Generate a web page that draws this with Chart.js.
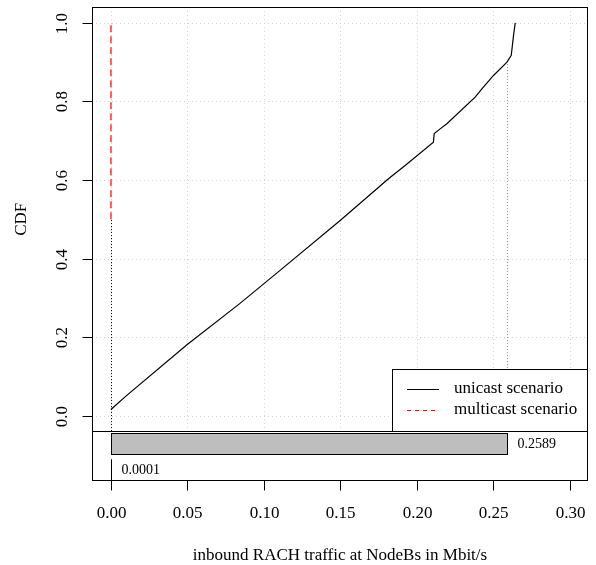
<!DOCTYPE html>
<html>
<head>
<meta charset="utf-8">
<script src="https://cdn.jsdelivr.net/npm/chart.js@4/dist/chart.umd.min.js"></script>
<style>
  body { margin: 0; background: #fff; }
  canvas { display: block; }
</style>
</head>
<body>
<canvas id="chartCdf" width="596" height="565"></canvas>
<script>
// CDF of inbound RACH traffic
const unicastX = [0, 0.0092, 0.0495, 0.0844, 0.1106, 0.1499, 0.1815, 0.1924, 0.2109, 0.2114, 0.2153,
  0.2197, 0.2382, 0.2426, 0.2502, 0.259, 0.2618, 0.2633, 0.2644];
const unicastY = [0.016, 0.048, 0.180, 0.286, 0.370, 0.497, 0.603, 0.637, 0.696, 0.718, 0.730,
  0.743, 0.811, 0.832, 0.866, 0.900, 0.917, 0.968, 1.0];
const multicastX = [0, 0];
const multicastY = [0.5, 1.0];

// means shown in the lower panel
const barValues = [0.2589, 0.0001];
const barLabels = ["0.2589", "0.0001"];
const barCdf = [0.9, 0.5];

const xTicks = [0, 0.05, 0.10, 0.15, 0.20, 0.25, 0.30];
const xTickLabels = ["0.00", "0.05", "0.10", "0.15", "0.20", "0.25", "0.30"];
const yTicks = [0, 0.2, 0.4, 0.6, 0.8, 1.0];
const yTickLabels = ["0.0", "0.2", "0.4", "0.6", "0.8", "1.0"];

const legendLabels = ["unicast scenario", "multicast scenario"];
const xTitle = "inbound RACH traffic at NodeBs in Mbit/s";
const yTitle = "CDF";

const SERIF = "'Liberation Serif', 'DejaVu Serif', serif";

const toPts = (xs, ys) => xs.map((x, i) => ({ x: x, y: ys[i] }));

// draws the R-style frame, grid, axes, lower bar panel and legend
const rDecor = {
  id: "rDecor",
  beforeDatasetsDraw(chart) {
    const { ctx, chartArea: a, scales: { x, y } } = chart;
    const sep = y.getPixelForValue(-0.039);
    ctx.save();
    // grid
    ctx.strokeStyle = "#d3d3d3";
    ctx.lineWidth = 1;
    ctx.setLineDash([1, 3]);
    xTicks.forEach(v => {
      const px = Math.round(x.getPixelForValue(v)) + 0.5;
      ctx.beginPath(); ctx.moveTo(px, a.top); ctx.lineTo(px, sep); ctx.stroke();
    });
    yTicks.forEach(v => {
      const py = Math.round(y.getPixelForValue(v)) + 0.5;
      ctx.beginPath(); ctx.moveTo(a.left, py); ctx.lineTo(a.right, py); ctx.stroke();
    });
    // mean markers up to the CDF
    ctx.setLineDash([1, 2]);
    barValues.forEach((v, i) => {
      const px = Math.round(x.getPixelForValue(v)) + 0.5;
      ctx.strokeStyle = i === 0 ? "#8c8c8c" : "#000";
      ctx.beginPath(); ctx.moveTo(px, sep); ctx.lineTo(px, y.getPixelForValue(barCdf[i])); ctx.stroke();
    });
    ctx.restore();
  },
  afterDraw(chart) {
    const { ctx, chartArea: a, scales: { x, y } } = chart;
    const sep = Math.round(y.getPixelForValue(-0.039)) + 0.5;
    ctx.save();
    ctx.strokeStyle = "#000";
    ctx.lineWidth = 1;
    ctx.setLineDash([]);

    // lower panel bars
    const bands = [[-0.044, -0.098], [-0.110, -0.166]];
    barValues.forEach((v, i) => {
      const x0 = Math.round(x.getPixelForValue(0)) + 0.5;
      const x1 = Math.round(x.getPixelForValue(v)) + 0.5;
      const y0 = Math.round(y.getPixelForValue(bands[i][0])) + 0.5;
      const y1 = Math.round(y.getPixelForValue(bands[i][1])) + 0.5;
      ctx.fillStyle = "#bebebe";
      ctx.fillRect(x0, y0, x1 - x0, y1 - y0);
      ctx.strokeRect(x0, y0, x1 - x0, y1 - y0);
      ctx.fillStyle = "#000";
      ctx.font = "14px " + SERIF;
      ctx.textAlign = "left";
      ctx.textBaseline = "middle";
      ctx.fillText(barLabels[i], x1 + 10, (y0 + y1) / 2);
    });

    // frame and separator
    const L = Math.round(a.left) + 0.5, R = Math.round(a.right) - 0.5;
    const T = Math.round(a.top) + 0.5, B = Math.round(a.bottom) - 0.5;
    ctx.strokeRect(L, T, R - L, B - T);
    ctx.beginPath(); ctx.moveTo(L, sep); ctx.lineTo(R, sep); ctx.stroke();

    // x axis
    ctx.font = "17px " + SERIF;
    ctx.fillStyle = "#000";
    ctx.textAlign = "center";
    ctx.textBaseline = "middle";
    xTicks.forEach((v, i) => {
      const px = Math.round(x.getPixelForValue(v)) + 0.5;
      ctx.beginPath(); ctx.moveTo(px, B); ctx.lineTo(px, B + 10); ctx.stroke();
      ctx.fillText(xTickLabels[i], px, B + 33);
    });
    ctx.fillText(xTitle, (a.left + a.right) / 2, 556);

    // y axis
    yTicks.forEach((v, i) => {
      const py = Math.round(y.getPixelForValue(v)) + 0.5;
      ctx.beginPath(); ctx.moveTo(L, py); ctx.lineTo(L - 10, py); ctx.stroke();
      ctx.save();
      ctx.translate(63, py);
      ctx.rotate(-Math.PI / 2);
      ctx.fillText(yTickLabels[i], 0, 0);
      ctx.restore();
    });
    ctx.save();
    ctx.translate(22, (a.top + sep) / 2);
    ctx.rotate(-Math.PI / 2);
    ctx.fillText(yTitle, 0, 0);
    ctx.restore();

    // legend
    const lx = 392.5, ly = 369.5;
    ctx.fillStyle = "#fff";
    ctx.fillRect(lx, ly, R - lx, sep - ly);
    ctx.strokeRect(lx, ly, R - lx, sep - ly);
    const rows = [389, 410];
    const colors = ["#000", "#ff0000"];
    const dashes = [[], [4, 4]];
    legendLabels.forEach((t, i) => {
      ctx.strokeStyle = colors[i];
      ctx.setLineDash(dashes[i]);
      ctx.beginPath(); ctx.moveTo(407, rows[i] + 0.5); ctx.lineTo(439, rows[i] + 0.5); ctx.stroke();
      ctx.setLineDash([]);
      ctx.fillStyle = "#000";
      ctx.textAlign = "left";
      ctx.fillText(t, 454, rows[i]);
    });
    ctx.restore();
  }
};

new Chart(document.getElementById("chartCdf"), {
  type: "scatter",
  data: {
    datasets: [
      {
        label: legendLabels[0],
        data: toPts(unicastX, unicastY),
        showLine: true,
        borderColor: "#000",
        borderWidth: 1.2,
        pointRadius: 0,
        tension: 0
      },
      {
        label: legendLabels[1],
        data: toPts(multicastX, multicastY),
        showLine: true,
        borderColor: "#ff0000",
        borderWidth: 1.2,
        borderDash: [7, 4],
        pointRadius: 0
      }
    ]
  },
  options: {
    responsive: false,
    animation: false,
    layout: { padding: { left: 92, right: 8, top: 7, bottom: 84 } },
    plugins: {
      legend: { display: false },
      tooltip: { enabled: false }
    },
    scales: {
      x: { type: "linear", min: -0.0124, max: 0.312, display: false },
      y: { type: "linear", min: -0.166, max: 1.0402, display: false }
    }
  },
  plugins: [rDecor]
});
</script>
</body>
</html>
